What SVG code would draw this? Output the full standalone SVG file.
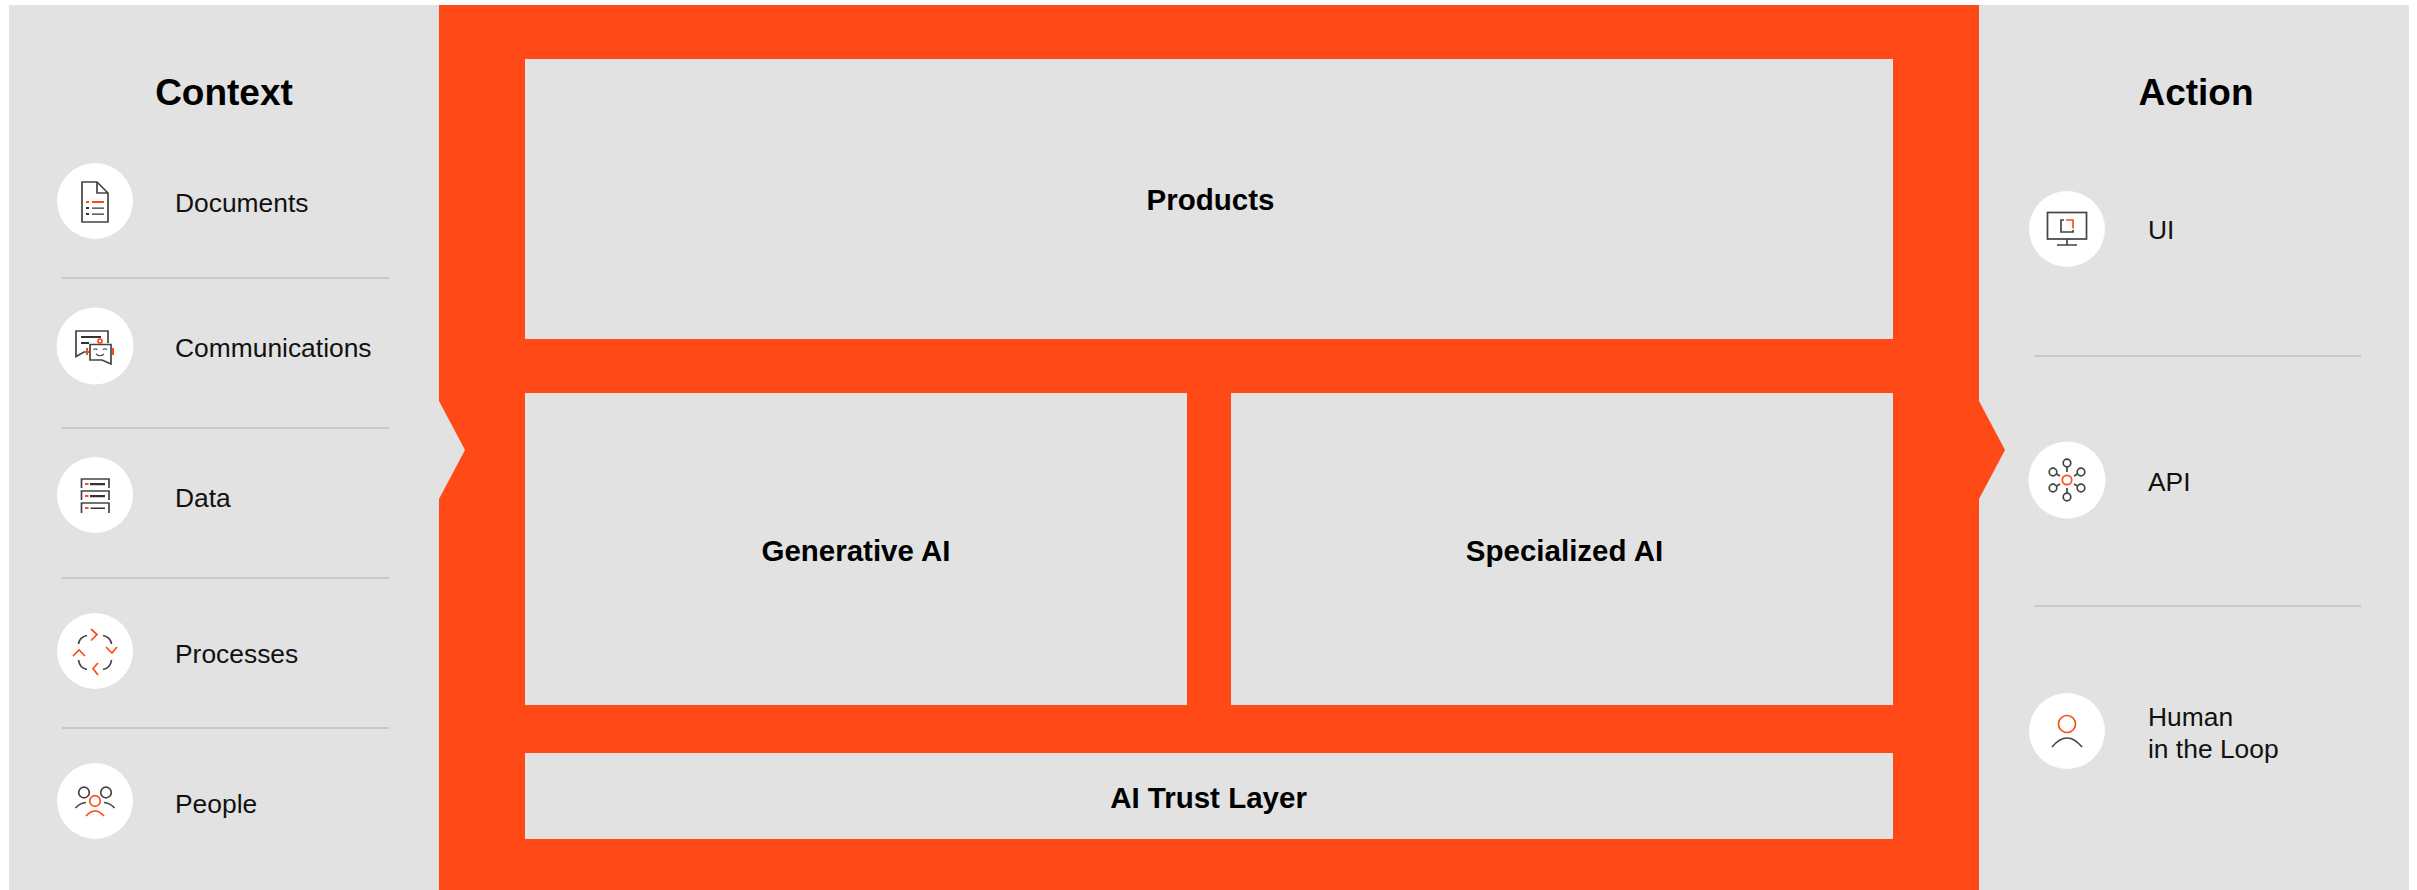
<svg xmlns="http://www.w3.org/2000/svg" width="2417" height="890" viewBox="0 0 2417 890">
<style>
text{font-family:"Liberation Sans",Arial,sans-serif;fill:#000}
.h{font-size:37px;font-weight:700;text-anchor:middle}
.b{font-size:29.5px;font-weight:700;text-anchor:middle}
.l{font-size:26.4px;fill:#111}
.panel{fill:#e2e2e2}
.o{fill:#ff4a17}
.c{fill:#fff}
.div{stroke:#c8c8c8;stroke-width:2;fill:none}
.g{fill:none;stroke:#444;stroke-width:1.7}
.r{fill:none;stroke:#ff4a17;stroke-width:1.7}
.gf{fill:#333}
.of{fill:#ff4a17}
.bub{fill:#fff;stroke:#444;stroke-width:1.7}
.thin{fill:none;stroke:#444;stroke-width:1.1}
</style>
<rect width="2417" height="890" fill="#fff"/>
<g id="frame">
<path class="panel" d="M9 5H2409V890H9Z"/>
<path class="o" d="M439 5H1979V401L2005 450L1979 499V890H439V499L465 450L439 401Z"/>
</g>
<g id="products"><rect class="panel" x="525" y="59" width="1368" height="280"/><text class="b" x="1210.500" y="209.500">Products</text></g>
<g id="generative-ai"><rect class="panel" x="525" y="393" width="662" height="312"/><text class="b" x="856" y="561">Generative AI</text></g>
<g id="specialized-ai"><rect class="panel" x="1231" y="393" width="662" height="312"/><text class="b" x="1564.500" y="561">Specialized AI</text></g>
<g id="ai-trust-layer"><rect class="panel" x="525" y="753" width="1368" height="86"/><text class="b" x="1208.500" y="807.500">AI Trust Layer</text></g>
<g id="connectors">
<path class="div" d="M62 278H389M62 428H389M62 578H389M62 728H389M2034 356H2361M2034 606H2361"/>
</g>
<g id="context-title"><text class="h" x="224" y="105">Context</text></g>
<g id="action-title"><text class="h" x="2196" y="105">Action</text></g>
<g id="documents">
<circle class="c" cx="95" cy="201" r="38"/>
<path class="g" d="M82 182H97L108 193V222H82ZM97 182V193H108"/>
<path class="of" d="M86 201H89V203H86ZM92 201H104V203H92Z"/>
<path class="gf" d="M86 207H89V209H86ZM86 213H89V215H86ZM92 207.500H104V208.800H92ZM92 213.500H104V214.800H92Z"/>
<text class="l" x="175" y="212">Documents</text>
</g>
<g id="communications">
<circle class="c" cx="95" cy="346" r="38.500"/>
<path class="g" d="M89 352H84L76 356.500V331H108V343"/>
<path class="gf" d="M81 336H101V338H81ZM81 342H89V344H81Z"/>
<path class="bub" d="M90 344.500H111V364L102 360H90Z"/>
<circle class="r" cx="100" cy="341" r="2"/>
<path class="of" d="M86 348H88V355H86ZM112 348H114V355H112Z"/>
<path class="thin" d="M93.500 350Q95.500 347.500 97.500 350M103 350Q105 347.500 107 350M96 354Q100 357.500 104 354"/>
<text class="l" x="175" y="357">Communications</text>
</g>
<g id="data">
<circle class="c" cx="95" cy="495" r="38"/>
<path class="g" d="M81.500 488V479H109V488M81.500 500V491H109V500M81.500 513V503H109V513"/>
<path class="of" d="M85 483H88.500V485H85ZM85 495H88.500V497H85ZM85 507H88.500V509H85Z"/>
<path class="gf" d="M90 483H105V485.200H90ZM90 495H105V497.200H90ZM90.500 507.500H105V509H90.500Z"/>
<text class="l" x="175" y="507">Data</text>
</g>
<g id="processes">
<circle class="c" cx="95" cy="651" r="38"/>
<path class="g" d="M78.500 644Q79.500 637 87 635.500M103 635.500Q110.500 637 111.500 644M111.500 660Q110.500 668 103 669.500M87 669.500Q79.500 668 78.500 660"/>
<path class="r" d="M91 629L97 634.500L91 640.500M106 647L112 653L117 647M98 663L93 668.500L98 675M73 656L79 650L85 656"/>
<text class="l" x="175" y="663">Processes</text>
</g>
<g id="people">
<circle class="c" cx="95" cy="801" r="38"/>
<circle class="g" cx="84" cy="792.500" r="5.300"/><circle class="g" cx="106" cy="792.500" r="5.300"/>
<circle class="r" cx="95" cy="801" r="5.300"/>
<path class="g" d="M75.500 808Q80 803 86 802.500M104 802.500Q110 803 114.500 808"/>
<path class="r" d="M86 816Q95 806 104 816"/>
<text class="l" x="175" y="813">People</text>
</g>
<g id="ui">
<circle class="c" cx="2067" cy="229" r="38"/>
<rect class="g" x="2047.500" y="212.500" width="39" height="26.500"/>
<path class="g" d="M2067 239V245M2057 245H2077"/>
<path class="g" d="M2064 220H2061V232H2073V230"/>
<path class="r" d="M2066 220H2073V228.500"/>
<text class="l" x="2148" y="239">UI</text>
</g>
<g id="api">
<circle class="c" cx="2067" cy="480" r="38.500"/>
<circle class="r" cx="2067" cy="480" r="4.700"/>
<g class="g">
<circle cx="2067" cy="463" r="3.800"/><circle cx="2067" cy="497" r="3.800"/>
<circle cx="2053" cy="472" r="3.800"/><circle cx="2081" cy="472" r="3.800"/>
<circle cx="2053" cy="488" r="3.800"/><circle cx="2081" cy="488" r="3.800"/>
<path d="M2067 467V472M2067 488V493M2056.500 474L2060 476M2077.500 474L2074 476M2056.500 486L2060 484M2077.500 486L2074 484"/>
</g>
<text class="l" x="2148" y="491">API</text>
</g>
<g id="human-in-the-loop">
<circle class="c" cx="2067" cy="731" r="38"/>
<circle class="r" cx="2067" cy="724" r="8.500"/>
<path class="g" d="M2052 747Q2067 729 2082 747"/>
<text class="l" x="2148" y="726">Human</text>
<text class="l" x="2148" y="758">in the Loop</text>
</g>
</svg>
